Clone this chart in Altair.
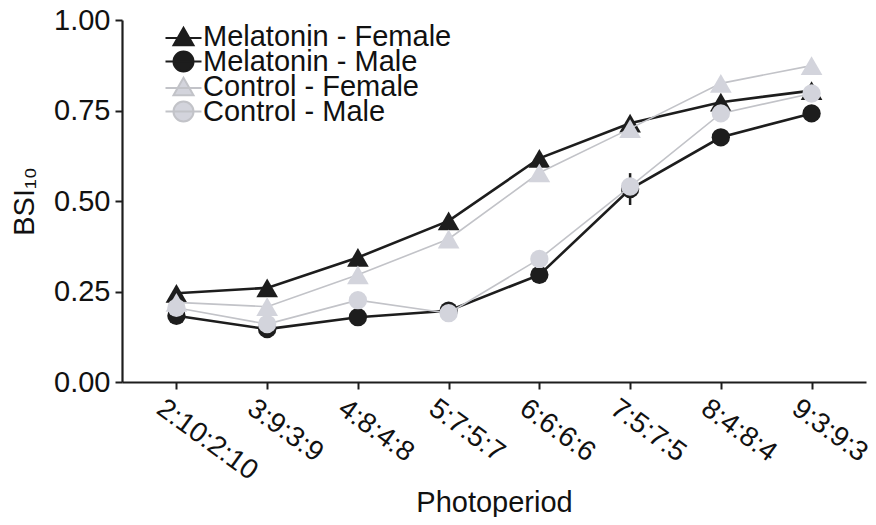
import altair as alt
import pandas as pd

# ---- data ----
photoperiods = ["2:10:2:10", "3:9:3:9", "4:8:4:8", "5:7:5:7",
                "6:6:6:6", "7:5:7:5", "8:4:8:4", "9:3:9:3"]
series_names = ["Melatonin - Female", "Melatonin - Male",
                "Control - Female", "Control - Male"]
mel_female = [0.245, 0.260, 0.344, 0.445, 0.618, 0.715, 0.773, 0.805]
mel_male = [0.183, 0.146, 0.179, 0.197, 0.296, 0.533, 0.676, 0.742]
ctl_female = [0.220, 0.208, 0.296, 0.395, 0.578, 0.700, 0.825, 0.874]
ctl_male = [0.205, 0.160, 0.226, 0.190, 0.340, 0.540, 0.742, 0.797]
mel_male_err = [0, 0, 0, 0, 0, 0.044, 0, 0]
no_err = [0, 0, 0, 0, 0, 0, 0, 0]

series_values = [mel_female, mel_male, ctl_female, ctl_male]
series_errs = [no_err, mel_male_err, no_err, no_err]

rows = []
for name, vals, errs in zip(series_names, series_values, series_errs):
    group, sex = name.split(" - ")
    for p, v, e in zip(photoperiods, vals, errs):
        rows.append(dict(photoperiod=p, value=v, series=name, group=group,
                         sex=sex, err=e, lo=v - e, hi=v + e))
df = pd.DataFrame(rows)

FONT = "Liberation Sans"
TXT = "#111111"
BLACK = "#1d1d1d"
LIGHT = "#d3d4dc"
LIGHT_LINE = "#c2c3c8"

TRI = "M0,-0.866L1,0.866L-1,0.866Z M-1.8,0.15H1.8"
CIRC = "M1,0A1,1,0,1,1,-1,0A1,1,0,1,1,1,0Z M-1.8,0H1.8"

x_axis = alt.Axis(
    title="Photoperiod", titleFont=FONT, titleFontSize=29, titleFontWeight="normal",
    titleColor=TXT, titlePadding=3,
    labelFont=FONT, labelFontSize=28, labelColor=TXT, labelAngle=36,
    labelAlign="left", labelBaseline="top", labelPadding=5, labelOffset=-9,
    labelOverlap=False, labelBound=False, labelFlush=False,
    tickSize=7, tickWidth=2, tickColor=BLACK, domainColor=BLACK, domainWidth=2.2,
    grid=False,
)
y_axis = alt.Axis(
    title="BSI\u2081\u2080", titleFont=FONT, titleFontSize=29, titleFontWeight="normal",
    titleColor=TXT, titlePadding=14,
    labelFont=FONT, labelFontSize=29, labelColor=TXT, labelPadding=5,
    values=[0, 0.25, 0.5, 0.75, 1.0], format=".2f", labelFlush=False,
    tickSize=7, tickWidth=2, tickColor=BLACK, domainColor=BLACK, domainWidth=2.2,
    grid=False,
)

x_enc = alt.X("photoperiod:N", sort=photoperiods,
              scale=alt.Scale(type="point", padding=0.6), axis=x_axis)
y_scale = alt.Scale(domain=[0, 1], nice=False, zero=True)
y_enc = alt.Y("value:Q", scale=y_scale, axis=y_axis)

base = alt.Chart(df).encode(x=x_enc, y=y_enc)


def group_line(group, color, width):
    return base.transform_filter(alt.datum.group == group).mark_line(
        color=color, strokeWidth=width).encode(detail="series:N")


def series_points(name, shape, color, size):
    return base.transform_filter(alt.datum.series == name).mark_point(
        filled=True, opacity=1, color=color, shape=shape, size=size)


mel_line = group_line("Melatonin", BLACK, 2.6)
mf_pts = series_points("Melatonin - Female", "triangle-up", BLACK, 470)
mm_pts = series_points("Melatonin - Male", "circle", BLACK, 335)
err = base.transform_filter(alt.datum.err > 0).mark_rule(
    color=BLACK, strokeWidth=2.5).encode(
    y=alt.Y("lo:Q", scale=y_scale, axis=y_axis), y2="hi:Q")
ctl_line = group_line("Control", LIGHT_LINE, 1.6)
cf_pts = series_points("Control - Female", "triangle-up", LIGHT, 470)
cm_pts = series_points("Control - Male", "circle", LIGHT, 335)

legend = alt.Legend(
    title=None, orient="none", legendX=47, legendY=2, padding=0,
    labelFont=FONT, labelFontSize=29, labelColor=TXT, labelOffset=5,
    labelBaseline="middle", symbolSize=400, symbolStrokeWidth=2,
    rowPadding=-5, gridAlign="none", labelLimit=400,
)
leg = base.transform_filter("false").mark_point(filled=True, opacity=1).encode(
    fill=alt.Fill("series:N", scale=alt.Scale(domain=series_names,
                  range=[BLACK, BLACK, LIGHT, LIGHT]), legend=legend),
    stroke=alt.Stroke("series:N", scale=alt.Scale(domain=series_names,
                      range=[BLACK, BLACK, LIGHT_LINE, LIGHT_LINE]), legend=legend),
    shape=alt.Shape("series:N", scale=alt.Scale(domain=series_names,
                    range=[TRI, CIRC, TRI, CIRC]), legend=legend),
)

chart = alt.layer(mel_line, mf_pts, mm_pts, err, ctl_line, cf_pts, cm_pts, leg).properties(
    width=744, height=362,
    autosize=alt.AutoSizeParams(type="none"),
    padding={"left": 114, "top": 12, "right": 2, "bottom": 135},
    background="white",
).configure_view(stroke=None)

chart.save("out.html", embed_options={"renderer": "svg", "actions": False})
